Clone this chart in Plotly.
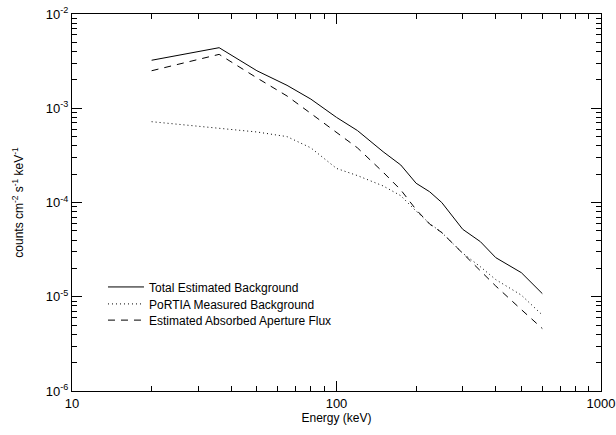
import plotly.graph_objects as go

energy = [20, 36, 50, 65, 80, 100, 120, 150, 175, 200, 225, 250, 300, 350, 400, 500, 600]
total_bg = [3.23e-3, 4.39e-3, 2.5e-3, 1.75e-3, 1.25e-3, 8.0e-4, 5.8e-4, 3.46e-4, 2.5e-4,
            1.6e-4, 1.3e-4, 1.0e-4, 5.2e-5, 3.84e-5, 2.6e-5, 1.8e-5, 1.08e-5]
portia_bg = [7.2e-4, 6.2e-4, 5.6e-4, 5.0e-4, 3.8e-4, 2.3e-4, 1.93e-4, 1.5e-4, 1.18e-4,
             8.1e-5, 6.0e-5, 4.8e-5, 2.9e-5, 2.08e-5, 1.52e-5, 1.04e-5, 6.4e-6]
aperture_flux = [2.5e-3, 3.73e-3, 2.1e-3, 1.35e-3, 8.8e-4, 5.5e-4, 3.8e-4, 2.1e-4, 1.36e-4,
                 8.4e-5, 5.9e-5, 4.8e-5, 2.9e-5, 1.9e-5, 1.3e-5, 7.3e-6, 4.6e-6]

series_names = ["Total Estimated Background", "PoRTIA Measured Background",
                "Estimated Absorbed Aperture Flux"]

x_ticks = [10, 100, 1000]
x_ticktext = ["10", "100", "1000"]
y_ticks = [1e-6, 1e-5, 1e-4, 1e-3, 1e-2]
y_ticktext = ["10<sup>-6</sup>", "10<sup>-5</sup>", "10<sup>-4</sup>",
              "10<sup>-3</sup>", "10<sup>-2</sup>"]

x_minor = [m * 10 ** d for d in (1, 2) for m in range(2, 10)]
y_minor = [m * 10 ** d for d in (-6, -5, -4, -3) for m in range(2, 10)]

FONT = "Liberation Sans, Arial, Helvetica, sans-serif"

fig = go.Figure()
fig.add_trace(go.Scatter(x=energy, y=total_bg, mode="lines", name=series_names[0],
                         legend="legend",
                         line=dict(color="black", width=1, dash="solid")))
fig.add_trace(go.Scatter(x=energy, y=portia_bg, mode="lines", name=series_names[1],
                         legend="legend2",
                         line=dict(color="black", width=1, dash="1px,3px")))
fig.add_trace(go.Scatter(x=energy, y=aperture_flux, mode="lines", name=series_names[2],
                         legend="legend3",
                         line=dict(color="black", width=1, dash="7px,6px")))

axis_common = dict(
    showline=True, linecolor="black", linewidth=1, mirror="allticks",
    ticks="inside", ticklen=10, tickwidth=1, tickcolor="black",
    showgrid=False, zeroline=False, automargin=False,
    tickfont=dict(family=FONT, size=13, color="black"),
)

fig.update_xaxes(type="log", range=[1, 3], tickmode="array", tickvals=x_ticks,
                 ticktext=x_ticktext,
                 minor=dict(tickmode="array", tickvals=x_minor, ticks="inside", ticklen=5,
                            tickcolor="black", showgrid=False),
                 title=dict(text="Energy (keV)", font=dict(family=FONT, size=12, color="black"),
                            standoff=4),
                 **axis_common)
fig.update_yaxes(type="log", range=[-6, -2], tickmode="array", tickvals=y_ticks,
                 ticktext=y_ticktext,
                 minor=dict(tickmode="array", tickvals=y_minor, ticks="inside", ticklen=5,
                            tickcolor="black", showgrid=False),
                 title=dict(text="counts cm<sup>-2</sup> s<sup>-1</sup> keV<sup>-1</sup>",
                            font=dict(family=FONT, size=12, color="black"), standoff=19),
                 **axis_common)

leg_common = dict(x=0.0586, xanchor="left", yanchor="middle",
                  bgcolor="rgba(0,0,0,0)", borderwidth=0,
                  font=dict(family=FONT, size=12, color="black"),
                  itemwidth=36)

fig.update_layout(
    width=616, height=435,
    margin=dict(l=72, r=15, t=14, b=44),
    paper_bgcolor="white", plot_bgcolor="white",
    font=dict(family=FONT, size=12, color="black"),
    legend=dict(y=0.276, **leg_common),
    legend2=dict(y=0.231, **leg_common),
    legend3=dict(y=0.188, **leg_common),
    showlegend=True,
)

fig.write_html("out.html", config={"displayModeBar": False},
               post_script="document.body.style.margin='0px';")
